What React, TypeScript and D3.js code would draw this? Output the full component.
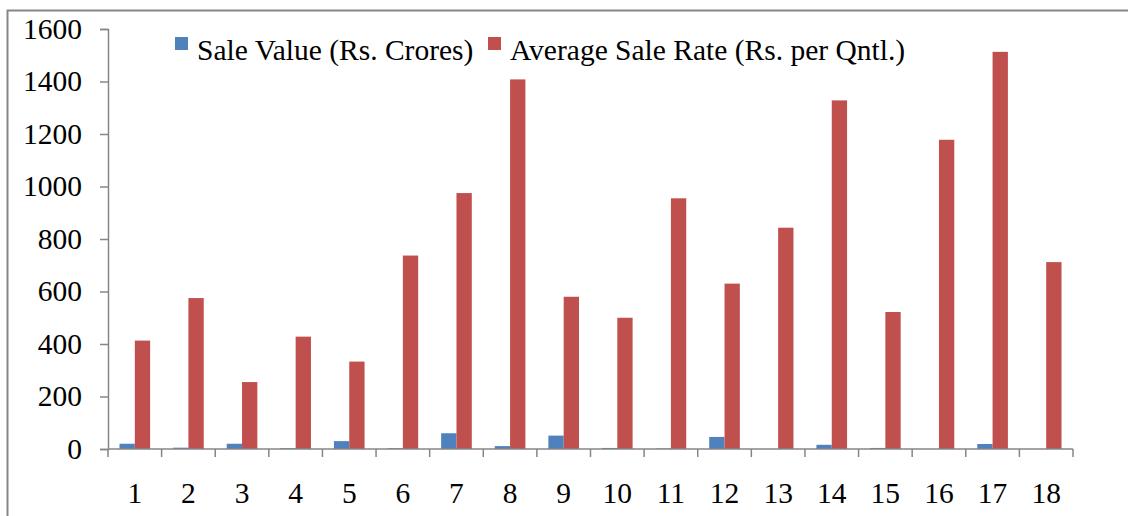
import React, { useEffect, useRef } from 'react';
import * as d3 from 'd3';

const categories = ['1', '2', '3', '4', '5', '6', '7', '8', '9', '10', '11', '12', '13', '14', '15', '16', '17', '18'];
const saleValue = [20, 5, 20, 3, 30, 3, 60, 11, 51, 4, 2, 46, 0, 16, 4, 0, 19, 0];
const avgSaleRate = [413, 575, 255, 428, 333, 737, 975, 1408, 580, 500, 955, 630, 843, 1328, 522, 1178, 1513, 712];
const seriesNames = ['Sale Value (Rs. Crores)', 'Average Sale Rate (Rs. per Qntl.)'];
const yTicks = [0, 200, 400, 600, 800, 1000, 1200, 1400, 1600];

const colors = ['#4F81BD', '#C0504D'];
const axisColor = '#868686';
const font = '"Liberation Serif", "Times New Roman", serif';
const fontSize = '29.5px';

const App = () => {
  const ref = useRef<SVGSVGElement | null>(null);

  useEffect(() => {
    drawChart(ref.current);
  }, []);

  return (
    <svg
      ref={ref}
      width={1128}
      height={516}
      style={{ position: 'absolute', left: 0, top: 0, background: '#fff', fontFamily: font }}
    />
  );
};

function drawChart(el: SVGSVGElement | null) {
  if (!el) return;
  const svg = d3.select(el);
  svg.selectAll('*').remove();

  // chart area
  const left = 108,
    right = 1073,
    top = 29,
    bottom = 449;

  // outer frame
  svg
    .append('rect')
    .attr('x', 7.5)
    .attr('y', 10.5)
    .attr('width', 1200)
    .attr('height', 600)
    .attr('fill', 'none')
    .attr('stroke', axisColor)
    .attr('stroke-width', 2);

  const x0 = d3.scaleBand().domain(categories).range([left, right]).padding(0);
  const x1 = d3
    .scaleBand()
    .domain(seriesNames)
    .range([0, x0.bandwidth()])
    .paddingInner(0)
    .paddingOuter(0.75);
  const y = d3.scaleLinear().domain([0, 1600]).range([bottom, top]);

  // bars
  const rows = categories.map((c, i) => ({ cat: c, vals: [saleValue[i], avgSaleRate[i]] }));
  const groups = svg
    .append('g')
    .selectAll('g')
    .data(rows)
    .join('g')
    .attr('transform', (d) => `translate(${x0(d.cat)},0)`);
  groups
    .selectAll('rect')
    .data((d) => d.vals.map((v, k) => ({ v, k })))
    .join('rect')
    .attr('x', (d) => x1(seriesNames[d.k]) as number)
    .attr('y', (d) => y(d.v))
    .attr('width', x1.bandwidth())
    .attr('height', (d) => bottom - y(d.v))
    .attr('fill', (d) => colors[d.k]);

  // Y axis
  const yAxis = svg
    .append('g')
    .attr('transform', `translate(${left},0)`)
    .call(d3.axisLeft(y).tickValues(yTicks).tickFormat(d3.format('d')).tickSize(8).tickPadding(18));
  yAxis.attr('font-family', null).attr('font-size', null);
  yAxis.select('.domain').attr('stroke', axisColor).attr('stroke-width', 1.5);
  yAxis.selectAll('.tick line').attr('stroke', axisColor).attr('stroke-width', 1.5);
  yAxis
    .selectAll('.tick text')
    .style('font-family', font)
    .style('font-size', fontSize)
    .attr('fill', '#000');

  // X axis
  const xAxis = svg.append('g').attr('transform', `translate(0,${bottom})`);
  xAxis
    .append('line')
    .attr('x1', left)
    .attr('x2', right)
    .attr('stroke', axisColor)
    .attr('stroke-width', 1.5);
  const bounds = categories.map((c) => x0(c) as number).concat([right]);
  xAxis
    .selectAll('line.tk')
    .data(bounds)
    .join('line')
    .attr('class', 'tk')
    .attr('x1', (d) => d)
    .attr('x2', (d) => d)
    .attr('y1', 0)
    .attr('y2', 8)
    .attr('stroke', axisColor)
    .attr('stroke-width', 1.5);
  xAxis
    .selectAll('text')
    .data(categories)
    .join('text')
    .attr('x', (d) => (x0(d) as number) + x0.bandwidth() / 2)
    .attr('y', 54)
    .attr('text-anchor', 'middle')
    .style('font-family', font)
    .style('font-size', fontSize)
    .attr('fill', '#000')
    .text((d) => d);

  // legend
  const legendX = [175, 488];
  const legend = svg
    .append('g')
    .selectAll('g')
    .data(seriesNames)
    .join('g')
    .attr('transform', (d, i) => `translate(${legendX[i]},37)`);
  legend
    .append('rect')
    .attr('width', 13)
    .attr('height', 13)
    .attr('fill', (d, i) => colors[i]);
  legend
    .append('text')
    .attr('x', 22)
    .attr('y', 23)
    .style('font-family', font)
    .style('font-size', fontSize)
    .attr('fill', '#000')
    .text((d) => d);
}

export default App;
